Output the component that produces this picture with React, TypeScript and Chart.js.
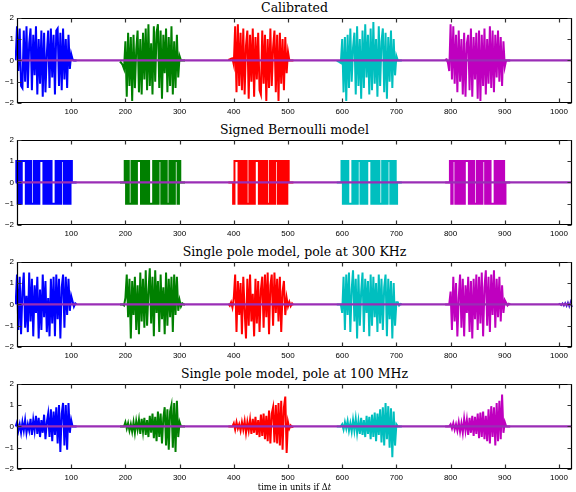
import React, { useEffect, useRef } from "react";
import { Chart, registerables } from "chart.js";
Chart.register(...registerables);

const X_MIN = 0;
const X_MAX = 1024;
const X_TICKS = [100, 200, 300, 400, 500, 600, 700, 800, 900, 1000];
const Y_TICKS = [-2, -1, 0, 1, 2];
const BURST_STARTS = [0, 200, 400, 600, 800];
const SAMPLE_STEP = 2.5;
const LEAD = 10;
const COLORS = ["#0000ff", "#008000", "#ff0000", "#00bfbf", "#bf00bf"];
const BASELINE_COLOR = "#9a2db6";
const TITLES = [
  "Calibrated",
  "Signed Bernoulli model",
  "Single pole model, pole at 300 KHz",
  "Single pole model, pole at 100 MHz",
];

// each array: 4 lead samples, 41 burst samples (start..start+100), 4 trail samples
const CAL_BLUE = [0, 0, 0, 0,
  1.6, -0.5, 1.5, -1.2, -1.3, 1.4, -1.0, 1.6, -1.3, 0.8, 1.5, -1.4, 1.2, -0.7, 1.6, -1.6, 1.0, -1.1, 1.4, -1.7, 1.3,
  -1.5, 0.3, 1.4, -1.3, 1.5, -0.8, 1.2, -1.6, 1.4, 1.5, -1.2, 1.3, -1.4, 1.5, -0.9, 1.0, -1.3, 1.2, -0.4, 0.3,
  0.05, 0, 0, 0];
const CAL_GREEN = [-0.05, -0.12, -0.22, -0.4,
  0.9, -1.7, 1.3, -1.2, 1.1, -1.9, 1.2, -1.3, 0.5, 1.4, -1.5, 1.0, -1.6, 1.3, -0.9, 1.5, -1.4, 1.7, -1.2, 0.8, -1.6,
  1.6, -1.0, 1.3, 1.7, -1.3, 1.4, -1.8, 1.2, -0.6, 1.5, -1.5, 1.1, -1.2, 1.6, -1.6, 0.9, -1.3, 1.2, -0.8, 0.2,
  0, 0, 0, 0];
const CAL_RED = [0.02, 0.05, 0.08, 0.1,
  -0.2, 1.6, -1.5, 1.7, -1.2, 1.3, -1.4, 1.5, -1.6, 0.7, 1.4, -1.8, 1.2, -1.0, 1.5, -1.7, 1.1, -0.9, 1.3, -1.4, -1.6,
  1.4, -1.1, 1.2, -1.9, 1.0, -1.3, 1.5, -1.2, 0.6, 1.4, -1.5, 1.2, -1.9, 1.3, -1.1, 1.0, -1.4, 1.1, -0.6, 0.4,
  0, 0, 0, 0];
const CAL_CYAN = [-0.02, -0.05, -0.08, -0.12,
  1.0, -1.5, 1.1, -1.9, 1.2, -1.3, 1.5, -1.0, 0.6, 1.3, -1.6, 1.6, -1.2, 1.0, -1.8, 1.4, -1.3, 1.7, -0.8, 1.2, -1.6,
  1.5, -1.4, 1.8, -1.1, 1.0, -1.7, 1.6, -1.2, 0.9, 1.5, -1.5, 1.3, -1.8, 1.1, -1.0, 1.4, -1.3, 1.0, -0.7, 0.2,
  0, 0, 0, 0];
const CAL_MAG = [0.02, 0.05, -0.1, -0.5,
  1.7, -0.9, 1.6, -1.1, 1.2, -1.5, 1.4, -1.0, 1.0, -1.6, 1.3, -1.7, 0.8, 1.2, -1.4, 1.5, -1.7, 1.1, -0.9, 1.3, -1.8,
  1.4, -1.9, 1.2, -1.2, 1.5, -1.6, 1.0, -1.1, 1.6, -1.3, 1.4, -1.5, 1.2, -0.8, 1.4, -1.0, 1.1, -1.2, 0.9, -0.3,
  0, 0, 0, 0];

const BER_BLUE = [0, 0, 0, 0,
  1, -1, 1, -1, 1, 1, 1, -1, 1, -1, 1, -1, -1, 1, -1, 1, -1, 1, 1, 1, -1,
  1, -1, 1, -1, 1, -1, -1, -1, 1, -1, 1, -1, 1, 1, -1, 1, -1, 1, -1, 1,
  0, 0, 0, 0];
const BER_GREEN = [0, 0, 0, 0,
  1, -1, 1, -1, -1, 1, -1, 1, -1, 1, 1, 1, -1, 1, -1, 1, -1, 1, -1, -1, -1,
  1, -1, 1, -1, 1, 1, -1, 1, -1, 1, -1, -1, 1, -1, 1, -1, 1, 1, -1, 1,
  0, 0, 0, 0];
const BER_RED = [0, 0, 0, 0,
  -1, 1, 1, 1, -1, 1, -1, 1, -1, 1, -1, -1, 1, -1, 1, -1, 1, 1, 1, -1, 1,
  -1, 1, -1, 1, -1, -1, 1, -1, 1, -1, 1, 1, -1, 1, -1, 1, -1, 1, -1, 1,
  0, 0, 0, 0];
const BER_CYAN = [0, 0, 0, 0,
  1, -1, 1, -1, 1, -1, -1, -1, 1, -1, 1, -1, 1, 1, -1, 1, -1, 1, -1, 1, 1,
  1, -1, 1, -1, 1, -1, 1, -1, -1, 1, -1, 1, -1, 1, 1, -1, 1, -1, 1, -1,
  0, 0, 0, 0];
const BER_MAG = [0, 0, 0, 0,
  1, -1, 1, 1, -1, 1, -1, 1, -1, 1, -1, 1, 1, 1, -1, 1, -1, 1, -1, -1, 1,
  -1, 1, -1, 1, 1, -1, 1, -1, 1, -1, -1, -1, 1, -1, 1, -1, 1, -1, 1, -1,
  0, 0, 0, 0];

const SP300_BLUE = [0, 0, 0, 0,
  1.4, -1.2, 1.3, -1.4, 0.6, 1.5, -1.1, 0.4, -1.3, 1.5, -0.8, 1.2, -1.5, 0.9, -0.4, 1.3, -1.6, 0.7, -1.2, 1.4, -0.6,
  1.1, -1.3, 0.3, -1.5, 1.2, -0.9, 1.3, -1.5, 1.4, -0.7, 1.2, -1.6, 0.8, 1.4, -1.1, 1.3, -0.5, 1.2, -0.3, 0.4,
  0.15, -0.1, 0.05, 0];
const SP300_GREEN = [0, 0, 0, -0.05,
  0.3, 1.4, -0.6, 1.2, -1.6, 1.1, -0.5, 1.3, -1.2, 0.9, -1.4, 1.5, -0.8, 1.2, -1.1, 1.6, -1.0, 0.6, 1.7, -0.9, 1.3,
  -1.5, 1.6, -0.4, 1.1, -1.3, 1.4, -0.7, 0.8, -1.4, 1.5, -1.0, 1.2, -0.6, 1.3, -1.3, 1.4, -0.5, 1.3, -0.3, 0.2,
  -0.1, 0.05, 0, 0];
const SP300_RED = [0.03, -0.06, 0.1, -0.15,
  0.3, 1.4, -1.3, 1.1, -0.5, 1.0, -1.4, 1.3, -0.3, -1.6, 1.2, -1.0, 1.4, -0.8, 0.5, -1.5, 1.2, -0.9, 1.1, -1.3, 0.7,
  1.3, -1.1, 1.4, -0.6, 1.5, -1.4, 0.9, 1.4, -1.0, 1.5, -0.4, 1.2, -0.8, 1.3, -1.3, 0.6, 1.1, -0.5, 0.3, -0.1,
  0.12, -0.08, 0.05, -0.03];
const SP300_CYAN = [0, 0, 0, 0,
  -0.4, 1.3, -1.2, 1.4, -0.5, 1.5, -1.3, 0.7, 1.6, -0.8, 1.2, -1.6, 1.4, -1.0, 0.6, 1.5, -1.3, 1.2, -0.4, 1.1, -1.5,
  1.4, -1.0, 1.3, -0.6, 1.0, -1.3, 1.4, -0.9, 1.2, -1.2, 0.8, 1.4, -1.5, 1.2, -0.7, 1.1, -1.6, 1.0, -1.0, 0.1,
  0.1, -0.05, 0.02, 0];
const SP300_MAG = [0, 0, 0, 0,
  0.6, -1.2, 1.3, -0.8, 1.0, -1.5, 0.3, 1.4, -1.1, 1.2, -1.5, 0.9, -0.4, 1.3, -1.3, 1.1, -1.6, 1.2, -0.7, 1.4, -1.2,
  1.3, -0.9, 1.5, -1.5, 0.8, 1.6, -1.0, 1.3, -1.3, 1.4, -0.5, 1.6, -1.1, 1.2, -0.6, 1.3, -0.8, 0.9, -0.4, 0.2,
  0.08, -0.05, 0.03, 0];
// small decaying tail that wraps around near the right edge (starts at x = 999)
const SP300_WRAP_START = 999;
const SP300_WRAP = [0, 0.03, -0.04, 0.05, -0.06, 0.07, -0.08, 0.09, -0.1, 0.12, -0.13];

const SP100_BLUE = [0, 0, 0, 0,
  0.2, -0.2, 0.1, -0.3, 0.2, -0.2, 0.3, -0.3, 0.1, -0.2, 0.35, -0.4, 0.3, -0.2, 0.5, -0.35, 0.4, -0.5, 0.3, -0.3, 0.55,
  -0.6, 0.2, 0.6, -0.5, 0.8, -0.7, 0.7, -0.4, 0.9, -0.8, 1.0, -1.2, 0.6, 1.1, -0.9, 1.0, -1.1, 1.1, -0.3, 0.3,
  0, 0, 0, 0];
const SP100_GREEN = [0, 0, 0, 0,
  0.2, -0.1, 0.15, -0.2, 0.1, -0.25, 0.2, -0.3, 0.25, -0.15, 0.3, -0.35, 0.35, -0.25, 0.4, -0.4, 0.3, -0.5, 0.5, -0.3, 0.6,
  -0.55, 0.45, -0.7, 0.7, -0.5, 0.6, -0.8, 0.4, 0.9, -0.9, 0.8, -1.1, 0.7, 1.0, -1.0, 1.1, -1.2, 1.2, -0.5, 0.2,
  0, 0, 0, 0];
const SP100_RED = [0, 0, 0, 0,
  0.15, -0.15, 0.2, -0.1, 0.1, -0.2, 0.2, -0.15, 0.25, -0.3, 0.2, -0.2, 0.3, -0.35, 0.35, -0.3, 0.45, -0.4, 0.3, -0.5, 0.55,
  -0.45, 0.6, -0.6, 0.5, -0.7, 0.75, -0.8, 0.6, 0.9, -0.75, 1.0, -0.8, 1.1, -0.9, 1.2, -1.1, 0.9, 1.4, -1.25, 0.2,
  -0.1, 0.05, -0.03, 0];
const SP100_CYAN = [0, 0, 0, 0,
  0.1, -0.15, 0.2, -0.1, 0.25, -0.2, 0.15, -0.25, 0.3, -0.2, 0.35, -0.3, 0.25, -0.35, 0.4, -0.4, 0.3, -0.5, 0.5, -0.35, 0.45,
  -0.6, 0.55, -0.5, 0.65, -0.7, 0.6, -0.4, 0.8, -0.75, 0.9, -0.9, 1.1, -0.6, 0.95, -1.0, 0.85, -1.45, 0.7, -0.9, 0.1,
  0, 0, 0, 0];
const SP100_MAG = [0, 0, 0, 0,
  0.1, -0.1, 0.15, -0.15, 0.1, -0.2, 0.2, -0.25, 0.15, -0.3, 0.35, -0.2, 0.3, -0.4, 0.4, -0.3, 0.5, -0.45, 0.45, -0.35, 0.6,
  -0.55, 0.65, -0.5, 0.7, -0.6, 0.5, -0.7, 0.8, -0.8, 0.95, -0.5, 0.9, -0.9, 1.1, -0.7, 1.2, -0.6, 1.5, -0.3, 0.2,
  0, 0, 0, 0];

const PANEL_TOPS = [16, 138, 260, 382];
const PLOT_H = 87;
const PAD_TOP = 6;
const AXIS_W = 17;
const AXIS_H = 14;
const PAD_RIGHT = 4;
const W = 576;

const fmt = (v: number) => (v < 0 ? "\u2212" + Math.abs(v) : String(v));

const framePlugin = {
  id: "frameTicks",
  afterDraw(chart: any) {
    const { ctx, chartArea: a, scales } = chart;
    const L = Math.round(a.left) + 0.5;
    const R = Math.round(a.right) - 0.5;
    const T = Math.round(a.top) + 0.5;
    const B = Math.round(a.bottom) - 0.5;
    ctx.save();
    ctx.strokeStyle = "#000";
    ctx.lineWidth = 1.2;
    ctx.beginPath();
    ctx.rect(L, T, R - L, B - T);
    ctx.stroke();
    ctx.strokeStyle = "#333";
    ctx.lineWidth = 1.2;
    ctx.beginPath();
    const tl = 4;
    for (const v of X_TICKS) {
      const px = Math.round(scales.x.getPixelForValue(v)) + 0.5;
      ctx.moveTo(px, B);
      ctx.lineTo(px, B - tl);
      ctx.moveTo(px, T);
      ctx.lineTo(px, T + tl);
    }
    for (const v of Y_TICKS) {
      const py = Math.round(scales.y.getPixelForValue(v)) + 0.5;
      ctx.moveTo(L, py);
      ctx.lineTo(L + tl, py);
      ctx.moveTo(R, py);
      ctx.lineTo(R - tl, py);
    }
    ctx.stroke();
    ctx.restore();
  },
};

type PanelProps = {
  top: number;
  title: string;
  series: number[][];
  stepped?: boolean;
  wrap?: { start: number; values: number[] };
};

function Panel({ top, title, series, stepped, wrap }: PanelProps) {
  const ref = useRef<HTMLCanvasElement | null>(null);
  useEffect(() => {
    if (!ref.current) return;
    const datasets: any[] = [];
    datasets.push({
      data: [
        { x: X_MIN, y: 0 },
        { x: X_MAX, y: 0 },
      ],
      borderColor: BASELINE_COLOR,
      borderWidth: 2.4,
      order: 0,
    });
    series.forEach((vals, k) => {
      datasets.push({
        data: vals.map((v, i) => ({ x: BURST_STARTS[k] - LEAD + i * SAMPLE_STEP, y: v })),
        borderColor: COLORS[k],
        borderWidth: 2,
        stepped: stepped ? "middle" : false,
        order: k + 1,
      });
    });
    if (wrap) {
      datasets.push({
        data: wrap.values.map((v, i) => ({ x: wrap.start + i * SAMPLE_STEP, y: v })),
        borderColor: "#4a20d0",
        borderWidth: 1.6,
        order: 6,
      });
    }
    const chart = new Chart(ref.current, {
      type: "line",
      data: { datasets },
      plugins: [framePlugin],
      options: {
        animation: false,
        responsive: false,
        events: [],
        layout: { padding: { top: PAD_TOP, right: PAD_RIGHT, left: 0, bottom: 0 } },
        elements: { point: { radius: 0 }, line: { tension: 0 } },
        datasets: { line: { clip: 2 } } as any,
        plugins: { legend: { display: false }, tooltip: { enabled: false }, title: { display: false } },
        scales: {
          x: {
            type: "linear",
            min: X_MIN,
            max: X_MAX,
            grid: { display: false, drawTicks: false },
            border: { display: false },
            afterBuildTicks: (s: any) => {
              s.ticks = X_TICKS.map((v) => ({ value: v }));
            },
            afterFit: (s: any) => {
              s.height = AXIS_H;
            },
            ticks: {
              autoSkip: false,
              maxRotation: 0,
              padding: 4,
              color: "#000",
              font: { family: "'Liberation Sans', Arial, sans-serif", size: 8 },
              callback: (v: any) => fmt(Number(v)),
            },
          },
          y: {
            type: "linear",
            min: -2,
            max: 2,
            grid: { display: false, drawTicks: false },
            border: { display: false },
            afterBuildTicks: (s: any) => {
              s.ticks = Y_TICKS.map((v) => ({ value: v }));
            },
            afterFit: (s: any) => {
              s.width = AXIS_W;
            },
            ticks: {
              padding: 3,
              color: "#000",
              font: { family: "'Liberation Sans', Arial, sans-serif", size: 8 },
              callback: (v: any) => fmt(Number(v)),
            },
          },
        },
      } as any,
    });
    return () => chart.destroy();
  }, []);
  const h = PAD_TOP + PLOT_H + AXIS_H;
  return (
    <>
      <div
        style={{
          position: "absolute",
          left: AXIS_W,
          width: W - AXIS_W - PAD_RIGHT,
          top: top - 16,
          height: 15,
          lineHeight: "15px",
          textAlign: "center",
          fontFamily: "'DejaVu Serif', serif",
          fontSize: 12.5,
          color: "#000",
          whiteSpace: "nowrap",
        }}
      >
        {title}
      </div>
      <canvas
        ref={ref}
        width={W}
        height={h}
        style={{ position: "absolute", left: 0, top: top - PAD_TOP, width: W, height: h }}
      />
    </>
  );
}

export default function App() {
  return (
    <div style={{ position: "absolute", left: 0, top: 0, width: 576, height: 492, background: "#fff", overflow: "hidden" }}>
      <Panel top={PANEL_TOPS[0]} title={TITLES[0]} series={[CAL_BLUE, CAL_GREEN, CAL_RED, CAL_CYAN, CAL_MAG]} />
      <Panel top={PANEL_TOPS[1]} title={TITLES[1]} series={[BER_BLUE, BER_GREEN, BER_RED, BER_CYAN, BER_MAG]} stepped />
      <Panel
        top={PANEL_TOPS[2]}
        title={TITLES[2]}
        series={[SP300_BLUE, SP300_GREEN, SP300_RED, SP300_CYAN, SP300_MAG]}
        wrap={{ start: SP300_WRAP_START, values: SP300_WRAP }}
      />
      <Panel top={PANEL_TOPS[3]} title={TITLES[3]} series={[SP100_BLUE, SP100_GREEN, SP100_RED, SP100_CYAN, SP100_MAG]} />
      <div
        style={{
          position: "absolute",
          left: AXIS_W,
          width: W - AXIS_W - PAD_RIGHT,
          top: 482,
          height: 10,
          lineHeight: "10px",
          textAlign: "center",
          fontFamily: "'DejaVu Serif', serif",
          fontSize: 8.3,
          color: "#000",
          whiteSpace: "nowrap",
        }}
      >
        time in units if Δ<i>t</i>
      </div>
    </div>
  );
}
